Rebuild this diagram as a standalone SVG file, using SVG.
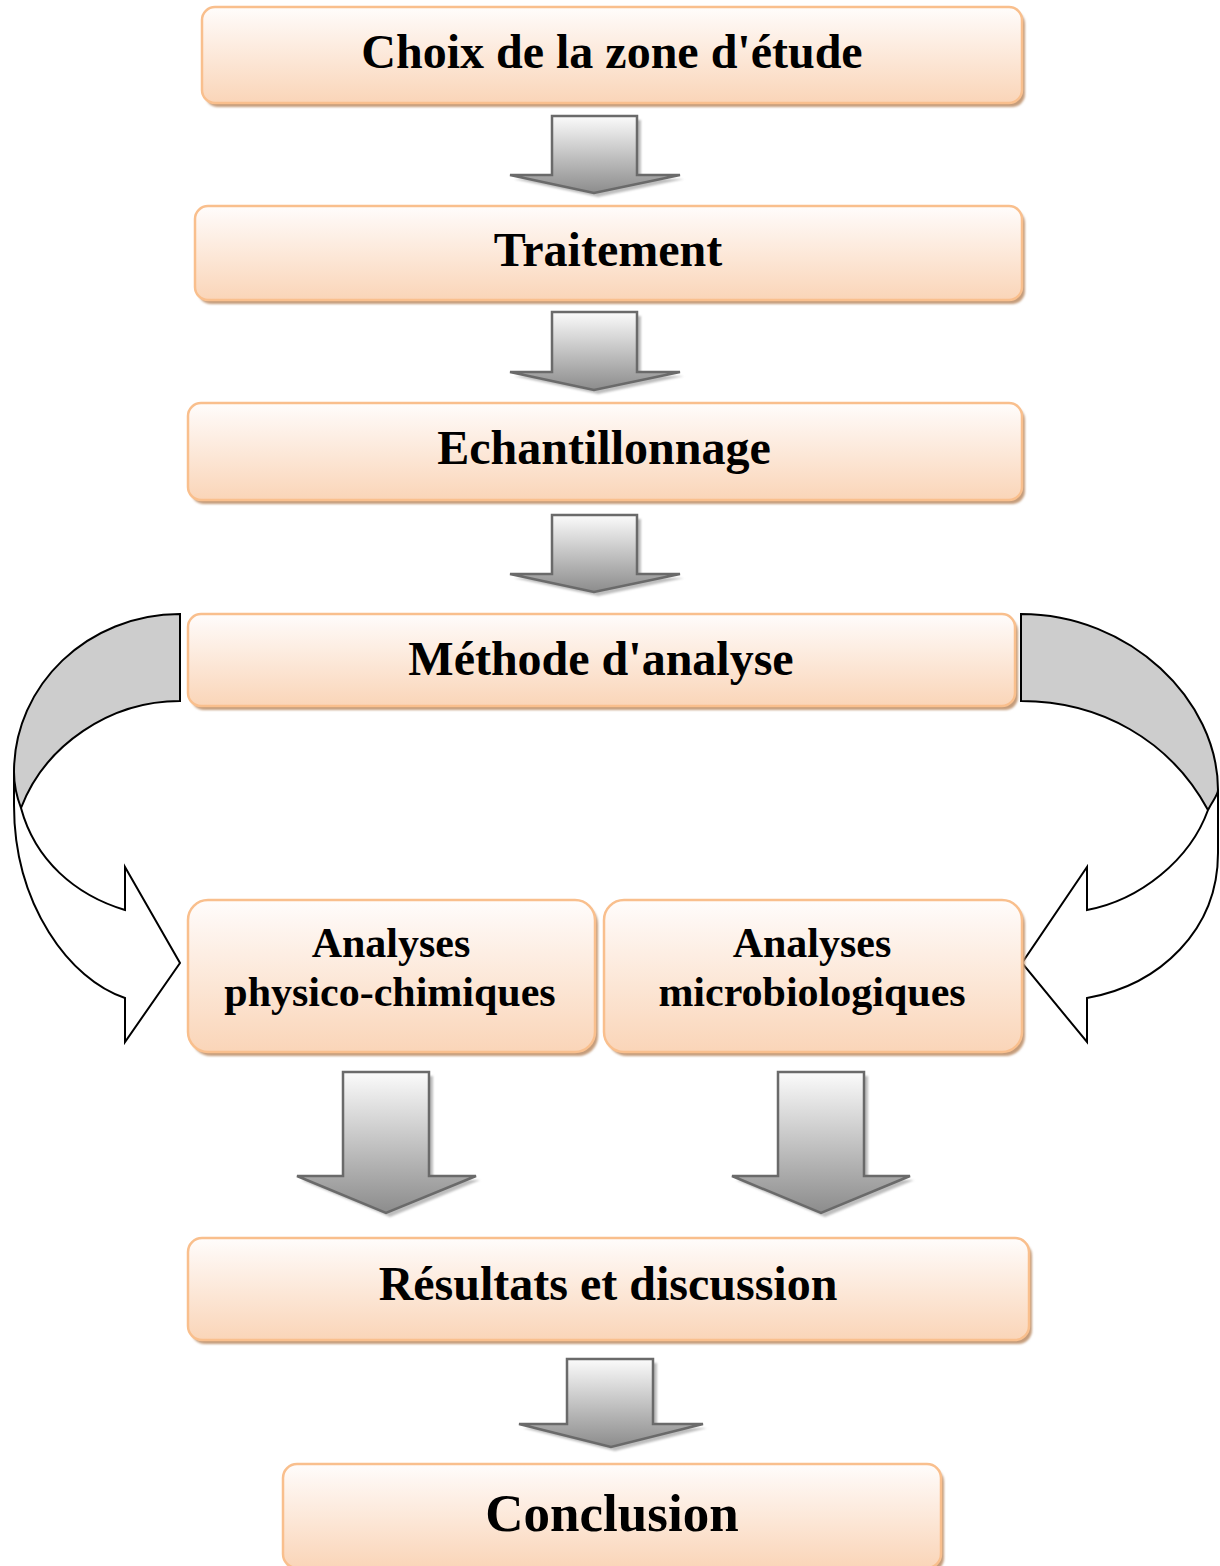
<svg xmlns="http://www.w3.org/2000/svg" width="1220" height="1566" viewBox="0 0 1220 1566">
<defs>
<linearGradient id="boxg" x1="0" y1="0" x2="0" y2="1">
<stop offset="0" stop-color="#fffdfc"/>
<stop offset="0.15" stop-color="#fef6f1"/>
<stop offset="1" stop-color="#fad5b8"/>
</linearGradient>
<linearGradient id="arrg" x1="0" y1="0" x2="0" y2="1">
<stop offset="0" stop-color="#fbfbfb"/>
<stop offset="1" stop-color="#8c8c8c"/>
</linearGradient>
<filter id="sh" x="-5%" y="-5%" width="110%" height="120%">
<feGaussianBlur stdDeviation="1.2"/>
</filter>
</defs>
<style>
.box{fill:url(#boxg);stroke:#f9bf8d;stroke-width:2.5}
.bsh{fill:#c59c7a;filter:url(#sh)}
.arr{fill:url(#arrg);stroke:#6a6a6a;stroke-width:2.5;stroke-linejoin:miter}
.ash{fill:#bdbdbd;filter:url(#sh)}
.t{font-family:"Liberation Serif","Times New Roman",serif;font-weight:bold;fill:#000;text-anchor:middle}
.band{fill:#cdcdcd;stroke:#000;stroke-width:2}
.front{fill:#fff;stroke:#000;stroke-width:2}
</style>
<rect width="1220" height="1566" fill="#fff"/>

<g id="connectors">
<g id="a1">
<path class="ash" d="M556,120 H641 V179 H684 L598,197 L514,179 H556 Z"/>
<path class="arr" d="M552,116 H637 V175 H680 L594,193 L510,175 H552 Z"/>
</g>
<g id="a2">
<path class="ash" d="M556,316 H641 V376 H684 L598,394 L514,376 H556 Z"/>
<path class="arr" d="M552,312 H637 V372 H680 L594,390 L510,372 H552 Z"/>
</g>
<g id="a3">
<path class="ash" d="M556,519 H641 V578 H684 L598,596 L514,578 H556 Z"/>
<path class="arr" d="M552,515 H637 V574 H680 L594,592 L510,574 H552 Z"/>
</g>
<g id="a5">
<path class="ash" d="M347,1076 H433 V1180 H480 L390,1217 L301,1180 H347 Z"/>
<path class="arr" d="M343,1072 H429 V1176 H476 L386,1213 L297,1176 H343 Z"/>
</g>
<g id="a6">
<path class="ash" d="M782,1076 H868 V1180 H914 L825,1217 L736,1180 H782 Z"/>
<path class="arr" d="M778,1072 H864 V1176 H910 L821,1213 L732,1176 H778 Z"/>
</g>
<g id="a7">
<path class="ash" d="M571,1363 H657 V1428 H707 L615,1451 L523,1428 H571 Z"/>
<path class="arr" d="M567,1359 H653 V1424 H703 L611,1447 L519,1424 H567 Z"/>
</g>
<g id="curve-left">
<path class="band" d="M180,614 C88,614 14,685 14,772 L14,800 L21,808 C45,745 110,701 180,701 Z"/>
<path class="front" d="M14,772 L14,805 C14,905 70,980 125,998 L125,1042 L180,963 L125,867 L125,910 C75,895 35,860 21,808 C16,795 14,785 14,772 Z"/>
</g>
<g id="curve-right">
<path class="band" d="M1021,614 C1130,614 1218,700 1218,790 L1218,833 L1208,810 C1170,740 1100,701 1021,701 Z"/>
<path class="front" d="M1218,790 L1218,853 C1218,930 1160,985 1087,998 L1087,1042 L1022,963 L1087,867 L1087,910 C1140,900 1190,860 1208,810 C1213,800 1218,795 1218,790 Z"/>
</g>
</g>

<g id="n1">
<rect class="bsh" x="205" y="11" width="820" height="96" rx="13"/>
<rect class="box" x="202" y="7" width="820" height="96" rx="13"/>
<text class="t" x="612" y="68" font-size="48">Choix de la zone d'étude</text>
</g>
<g id="n2">
<rect class="bsh" x="198" y="210" width="827" height="94" rx="13"/>
<rect class="box" x="195" y="206" width="827" height="94" rx="13"/>
<text class="t" x="608" y="266" font-size="48">Traitement</text>
</g>
<g id="n3">
<rect class="bsh" x="191" y="407" width="834" height="97" rx="13"/>
<rect class="box" x="188" y="403" width="834" height="97" rx="13"/>
<text class="t" x="604" y="464" font-size="48">Echantillonnage</text>
</g>
<g id="n4">
<rect class="bsh" x="191" y="618" width="827" height="92" rx="13"/>
<rect class="box" x="188" y="614" width="827" height="92" rx="13"/>
<text class="t" x="601" y="675" font-size="48">Méthode d'analyse</text>
</g>
<g id="n5">
<rect class="bsh" x="191" y="904" width="407" height="152" rx="20"/>
<rect class="box" x="188" y="900" width="407" height="152" rx="20"/>
<text class="t" x="391" y="957" font-size="42">Analyses</text>
<text class="t" x="390" y="1006" font-size="42">physico-chimiques</text>
</g>
<g id="n6">
<rect class="bsh" x="607" y="904" width="418" height="152" rx="20"/>
<rect class="box" x="604" y="900" width="418" height="152" rx="20"/>
<text class="t" x="812" y="957" font-size="42">Analyses</text>
<text class="t" x="812" y="1006" font-size="42">microbiologiques</text>
</g>
<g id="n7">
<rect class="bsh" x="191" y="1242" width="841" height="102" rx="14"/>
<rect class="box" x="188" y="1238" width="841" height="102" rx="14"/>
<text class="t" x="608" y="1300" font-size="48">Résultats et discussion</text>
</g>
<g id="n8">
<rect class="bsh" x="286" y="1468" width="658" height="104" rx="14"/>
<rect class="box" x="283" y="1464" width="658" height="104" rx="14"/>
<text class="t" x="612" y="1531" font-size="53">Conclusion</text>
</g>
</svg>
